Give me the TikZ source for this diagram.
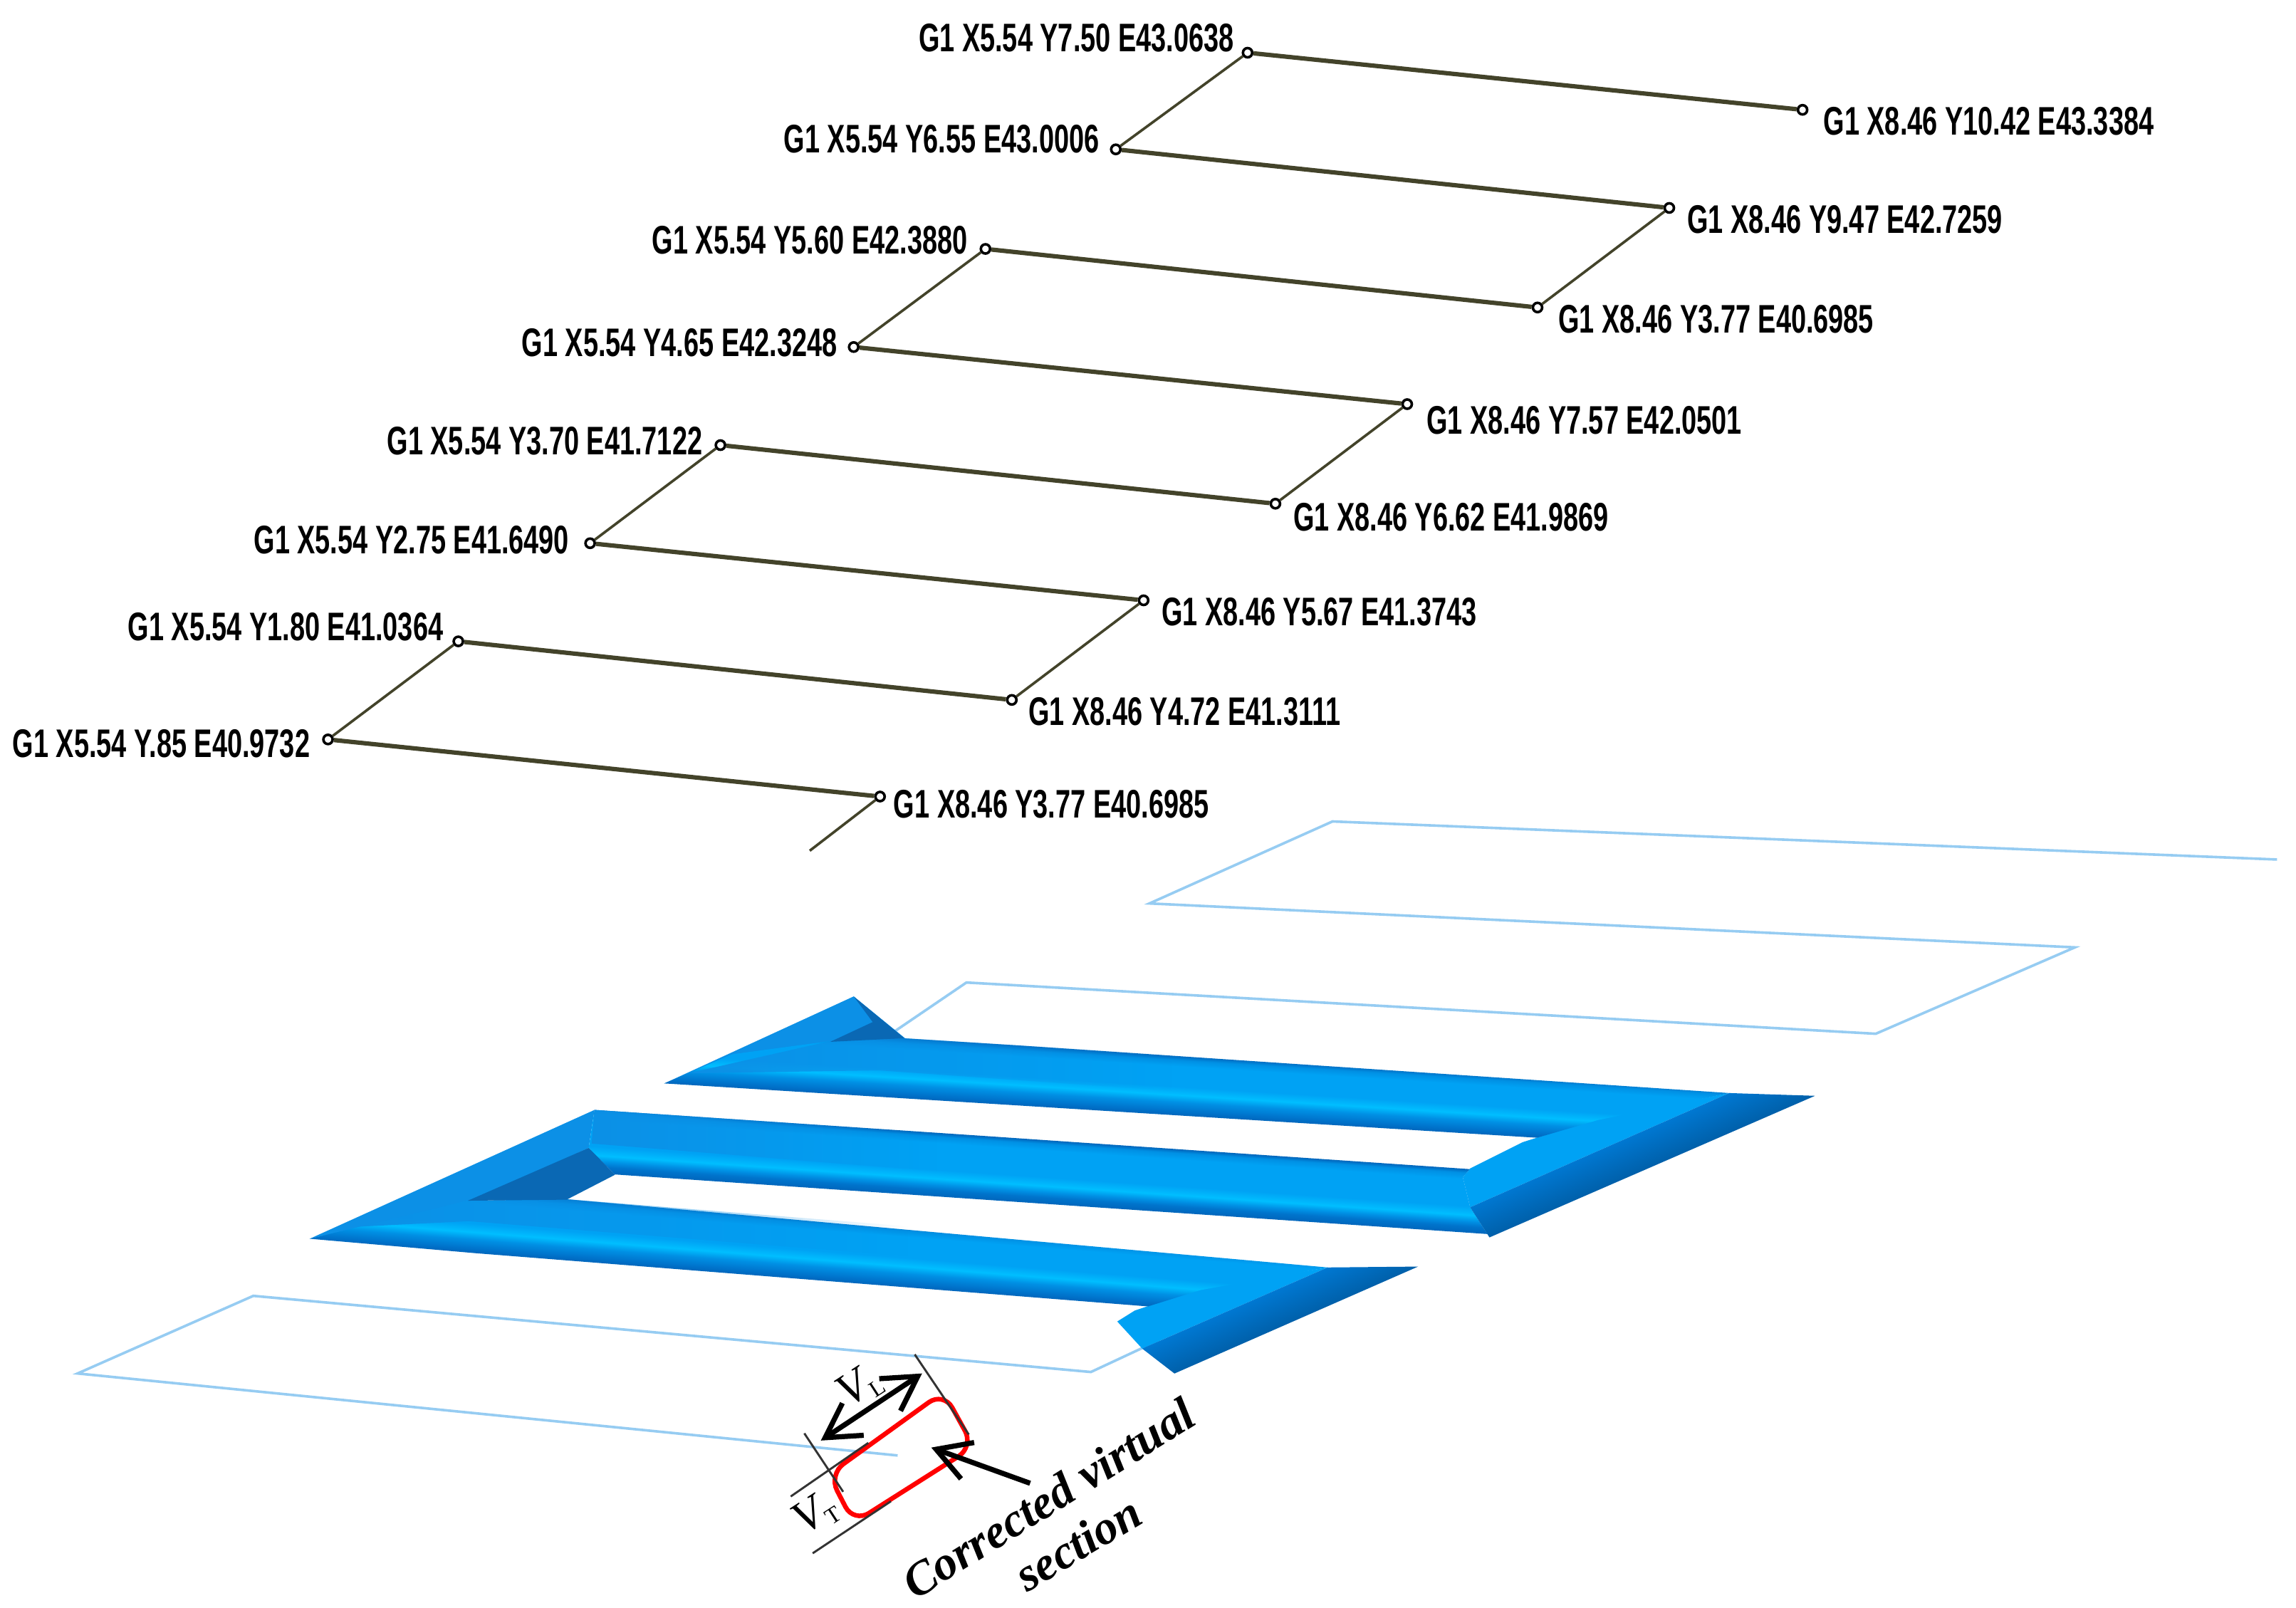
\documentclass[tikz,border=0pt]{standalone}
\usepackage{fontspec}
\usepackage{graphicx}
\setsansfont{Liberation Sans}
\setmainfont{Liberation Serif}
\usetikzlibrary{arrows.meta,fadings}
\definecolor{olv}{HTML}{43432A}
\definecolor{skyline}{HTML}{96CCF2}
\definecolor{dk}{HTML}{0066BC}
\definecolor{dkb}{HTML}{0074CC}
\definecolor{md}{HTML}{0090E4}
\definecolor{fl}{HTML}{00A2F4}
\definecolor{hl}{HTML}{00BEFF}
\definecolor{lf}{HTML}{0C90E6}
\definecolor{dd}{HTML}{0A68B4}
\definecolor{ed}{HTML}{0060AA}
\definecolor{ee}{HTML}{0078D2}
\pgfdeclareverticalshading{barone}{100bp}{color(0bp)=(dk); color(25bp)=(dk); color(29bp)=(dkb); color(36bp)=(md); color(42bp)=(hl); color(49bp)=(fl); color(66bp)=(fl); color(71bp)=(md); color(75bp)=(dk); color(100bp)=(dk)}
\pgfdeclareverticalshading{bartwo}{100bp}{color(0bp)=(dk); color(25bp)=(dk); color(30bp)=(dkb); color(34bp)=(md); color(39bp)=(hl); color(46bp)=(fl); color(67bp)=(fl); color(72bp)=(md); color(75bp)=(dk); color(100bp)=(dk)}
\pgfdeclareverticalshading{endface}{100bp}{color(0bp)=(ee); color(25bp)=(ee); color(75bp)=(ed); color(100bp)=(ed)}
\newcommand{\gtxt}[1]{\scalebox{0.677}[1]{#1}}
% shaded band: shading name, clip polygon, then p0 (top-left), p1 (top-right), p2 (bottom-left)
\newcommand{\band}[8]{%
  \begin{scope}
    \clip #2;
    \pgfmathsetmacro{\ma}{(#5-#3)*0.0056906}
    \pgfmathsetmacro{\mb}{-(#6-#4)*0.0056906}
    \pgfmathsetmacro{\mc}{(#3-#7)*0.0056906}
    \pgfmathsetmacro{\md}{-(#4-#8)*0.0056906}
    \pgfmathsetmacro{\mx}{#7*0.56906}
    \pgfmathsetmacro{\my}{-#8*0.56906}
    \pgflowlevel{\pgftransformcm{\ma}{\mb}{\mc}{\md}{\pgfpoint{\mx pt}{\my pt}}}
    \shade[shading=#1] (0pt,0pt) rectangle (100pt,100pt);
  \end{scope}}
\tikzset{
  pt/.style={circle,draw=black,line width=1pt,fill=white,inner sep=0pt,minimum size=3.6pt},
  gl/.style={font=\sffamily\bfseries\fontsize{15.5}{16}\selectfont,inner sep=0pt,text=black},
  gle/.style={gl,anchor=east},
  glw/.style={gl,anchor=west},
  long/.style={olv,line width=1.7pt},
  short/.style={olv,line width=1pt},
  skyl/.style={skyline,line width=1pt,line join=miter},
  dim/.style={black!80,line width=0.8pt},
  bigarrow/.style={black,line width=2pt,arrows={Straight Barb[length=13pt,width=15pt,line width=2pt]-Straight Barb[length=13pt,width=15pt,line width=2pt]}},
  ptrarrow/.style={black,line width=2pt,arrows={-Straight Barb[length=13pt,width=15pt,line width=2pt]}},
  itl/.style={font=\rmfamily\itshape\bfseries\fontsize{18.5}{19}\selectfont,inner sep=0pt},
  subl/.style={font=\rmfamily\itshape\fontsize{18}{18}\selectfont,inner sep=0pt,rotate=33},
}
\begin{document}
\begin{tikzpicture}[x=0.02cm,y=-0.02cm]
\useasboundingbox (0,0) rectangle (1568,1097.7);
\fill[white] (0,0) rectangle (1568,1097.7);
% ---- G-code path
\node[pt] (a) at (852,36) {};
\node[pt] (b) at (1231,75) {};
\node[pt] (c) at (762,102) {};
\node[pt] (d) at (1140,142) {};
\node[pt] (e) at (673,170) {};
\node[pt] (f) at (1050,210) {};
\node[pt] (g) at (583,237) {};
\node[pt] (h) at (961,276) {};
\node[pt] (i) at (492,304) {};
\node[pt] (j) at (871,344) {};
\node[pt] (k) at (403,371) {};
\node[pt] (l) at (781,410) {};
\node[pt] (m) at (313,438) {};
\node[pt] (n) at (691,478) {};
\node[pt] (o) at (224,505) {};
\node[pt] (p) at (601,544) {};
\coordinate (q) at (553,581);
\draw[long] (a)--(b);
\draw[short] (a)--(c);
\draw[long] (c)--(d);
\draw[short] (d)--(f);
\draw[long] (f)--(e);
\draw[short] (e)--(g);
\draw[long] (g)--(h);
\draw[short] (h)--(j);
\draw[long] (j)--(i);
\draw[short] (i)--(k);
\draw[long] (k)--(l);
\draw[short] (l)--(n);
\draw[long] (n)--(m);
\draw[short] (m)--(o);
\draw[long] (o)--(p);
\draw[short] (p)--(q);
\node[gle] (la) at (843,26) {\gtxt{G1 X5.54 Y7.50 E43.0638}};
\node[glw] (lb) at (1245,83) {\gtxt{G1 X8.46 Y10.42 E43.3384}};
\node[gle] (lc) at (751,95) {\gtxt{G1 X5.54 Y6.55 E43.0006}};
\node[glw] (ld) at (1152,150) {\gtxt{G1 X8.46 Y9.47 E42.7259}};
\node[gle] (le) at (661,164) {\gtxt{G1 X5.54 Y5.60 E42.3880}};
\node[glw] (lf) at (1064,218) {\gtxt{G1 X8.46 Y3.77 E40.6985}};
\node[gle] (lg) at (572,234) {\gtxt{G1 X5.54 Y4.65 E42.3248}};
\node[glw] (lh) at (974,287) {\gtxt{G1 X8.46 Y7.57 E42.0501}};
\node[gle] (li) at (480,301) {\gtxt{G1 X5.54 Y3.70 E41.7122}};
\node[glw] (lj) at (883,353) {\gtxt{G1 X8.46 Y6.62 E41.9869}};
\node[gle] (lk) at (389,369) {\gtxt{G1 X5.54 Y2.75 E41.6490}};
\node[glw] (ll) at (793,418) {\gtxt{G1 X8.46 Y5.67 E41.3743}};
\node[gle] (lm) at (303,428) {\gtxt{G1 X5.54 Y1.80 E41.0364}};
\node[glw] (ln) at (702,486) {\gtxt{G1 X8.46 Y4.72 E41.3111}};
\node[gle] (lo) at (212,508) {\gtxt{G1 X5.54 Y.85 E40.9732}};
\node[glw] (lp) at (610,549) {\gtxt{G1 X8.46 Y3.77 E40.6985}};
% ---- light-blue outline path
\draw[skyl] (1555,587)--(910,561)--(785,617)--(1417,647)--(1281,706)--(660,671)--(610,705);
\draw[skyl] (790,916)--(745,937)--(173,885)--(53,938)--(613,994);
% ---- blue bead: flat parts
\fill[lf] (453.5,740)--(583,680.5)--(618,709)--(567,712)--cycle;
\fill[lf] (406,758)--(211.5,846)--(319.5,822)--(402,784)--cycle;
\fill[fl] (1181,746.5)--(1004,824.5)--(999,804)--(1004,798)--(1040,780)--(1091,764)--cycle;
\fill[fl] (906.7,865.6)--(780,921)--(763,902.5)--(775,895)--(820,880)--cycle;
% ---- blue bead: shaded bars
\band{barone}{(453.5,740)--(500,720)--(567,711)--(617,708.7)--(1181,746.5)--(1091,765)--(1039.5,780)--cycle}{453}{699}{1240}{748}{453}{740}
\band{bartwo}{(406,758)--(1004,798)--(999,804)--(1004,824.5)--(1017.4,845.4)--(420,802.3)--(402,784)--cycle}{380}{756}{1020}{799.7}{380}{799.5}
\band{barone}{(211.5,846)--(319.5,820)--(387,819)--(906.7,865.6)--(820,881)--(775,895)--cycle}{211}{805}{969}{865}{211}{847}
% soft blend of the bars into the darker corner faces
\fill[lf,path fading=east] (470,733)--(567,711)--(617,709)--(800,720.5)--(800,745)--(600,731)--cycle;
\fill[lf,path fading=east] (406,758)--(640,773.7)--(640,800)--(404,781)--cycle;
\fill[lf,path fading=east] (240,838)--(319.5,820)--(387,819)--(620,837.5)--(620,858)--(320,834)--cycle;
% ---- end faces
\band{endface}{(1181,746.5)--(1240,748.4)--(1017.4,845.4)--(1004,824.5)--cycle}{1240}{748.4}{1017}{845.4}{1181}{746.5}
\band{endface}{(906.7,865.6)--(969,865)--(802.4,938.3)--(780,921)--cycle}{969}{865}{802}{938.3}{906.7}{865.6}
\fill[dd] (583,680.5)--(617.5,709)--(567,711.5)--(596,698)--cycle;
\fill[dd] (402,784)--(319.5,820)--(387,819.3)--(420,802.3)--(409,791)--cycle;
% ---- section
\draw[red,line width=1.8pt,rounded corners=7pt] (566,1007)--(644.3,950.5)--(665,988)--(583,1040)--cycle;
\coordinate (d1) at (624.7,925);
\coordinate (d2) at (661.6,979.7);
\coordinate (d3) at (549.3,978.9);
\coordinate (d4) at (575.8,1018.8);
\coordinate (d5) at (540,1022);
\coordinate (d6) at (593,985.4);
\coordinate (d7) at (555,1060.8);
\coordinate (d8) at (608.4,1025.3);
\draw[dim] (d1)--(d2);
\draw[dim] (d3)--(d4);
\draw[dim] (d5)--(d6);
\draw[dim] (d7)--(d8);
\coordinate (v1) at (560.6,983.8);
\coordinate (v2) at (629.7,938);
\draw[bigarrow] (v1)--(v2);
\coordinate (w1) at (703.5,1013);
\coordinate (w2) at (636,988.6);
\draw[ptrarrow] (w1)--(w2);
\node[subl] (vl) at (587,947) {V\raisebox{-0.3ex}{\fontsize{9}{9}\selectfont\upshape L}};
\node[subl] (vt) at (557,1034) {V\raisebox{-0.3ex}{\fontsize{9}{9}\selectfont\upshape T}};
\node[itl,rotate=32] (cv) at (716,1023) {Corrected virtual};
\node[itl,rotate=31] (sc) at (736,1054) {section};
\end{tikzpicture}
\end{document}
